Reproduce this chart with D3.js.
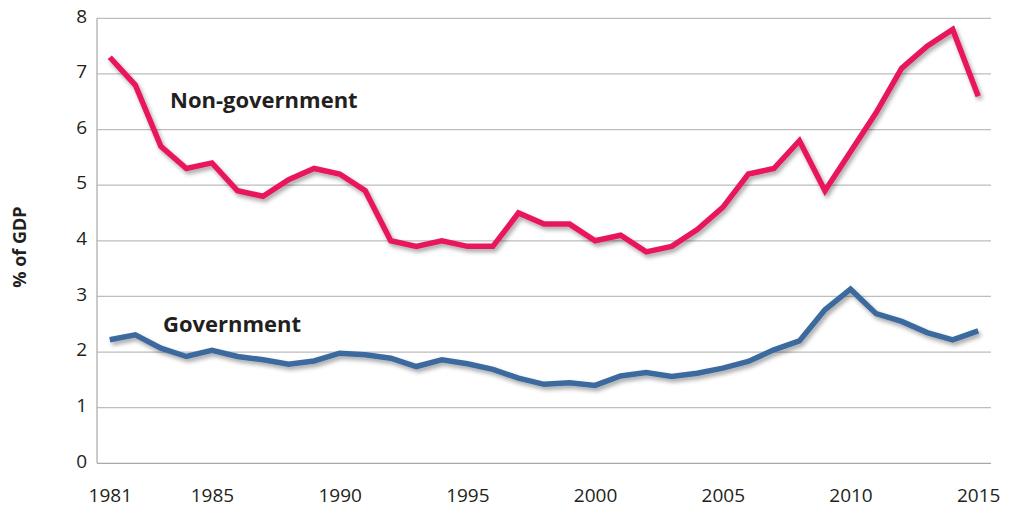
<!DOCTYPE html>
<html>
<head>
<meta charset="utf-8">
<script src="https://cdn.jsdelivr.net/npm/d3@7/dist/d3.min.js"></script>
<style>
  html, body { margin: 0; padding: 0; background: #fff; }
  svg { display: block; }
  text { font-family: "Open Sans", "Noto Sans", sans-serif; fill: #231f20; }
</style>
</head>
<body>
<svg id="chart" width="1013" height="513"></svg>
<script>
const years = d3.range(1981, 2016);
const nonGovernment = [7.3, 6.8, 5.7, 5.3, 5.4, 4.9, 4.8, 5.1, 5.3, 5.2, 4.9, 4.0, 3.9, 4.0, 3.9, 3.9, 4.5, 4.3, 4.3, 4.0, 4.1, 3.8, 3.9, 4.2, 4.6, 5.2, 5.3, 5.8, 4.9, 5.6, 6.3, 7.1, 7.5, 7.8, 6.6];
const government = [2.22, 2.31, 2.07, 1.92, 2.03, 1.92, 1.86, 1.78, 1.84, 1.98, 1.95, 1.89, 1.74, 1.86, 1.79, 1.69, 1.53, 1.42, 1.45, 1.40, 1.57, 1.63, 1.56, 1.62, 1.71, 1.83, 2.04, 2.20, 2.76, 3.13, 2.69, 2.55, 2.35, 2.22, 2.38];
const xTickYears = [1981, 1985, 1990, 1995, 2000, 2005, 2010, 2015];
const yTicks = [0, 1, 2, 3, 4, 5, 6, 7, 8];
const seriesNames = ["Non-government", "Government"];
const yLabel = "% of GDP";

const svg = d3.select("#chart");
const mLeft = 97, mRight = 991, mTop = 18.3, mBottom = 463.3;

const x = d3.scaleLinear().domain([1980.5, 2015.5]).range([mLeft, mRight]);
const y = d3.scaleLinear().domain([0, 8]).range([mBottom, mTop]);

const defs = svg.append("defs");
const f = defs.append("filter").attr("id", "shadow")
  .attr("x", "-5%").attr("y", "-20%").attr("width", "110%").attr("height", "140%");
f.append("feDropShadow").attr("dx", 2).attr("dy", 3).attr("stdDeviation", 2.2)
  .attr("flood-color", "#000").attr("flood-opacity", 0.35);

// gridlines
svg.append("g").selectAll("line").data(yTicks.filter(d => d > 0)).join("line")
  .attr("x1", mLeft).attr("x2", mRight)
  .attr("y1", d => y(d)).attr("y2", d => y(d))
  .attr("stroke", "#bdbdbd").attr("stroke-width", 1.2);

// axis lines
svg.append("line").attr("x1", mLeft).attr("x2", mRight).attr("y1", y(0)).attr("y2", y(0))
  .attr("stroke", "#a8a8a8").attr("stroke-width", 1.2);
svg.append("line").attr("x1", mLeft).attr("x2", mLeft).attr("y1", y(8)).attr("y2", y(0))
  .attr("stroke", "#a8a8a8").attr("stroke-width", 1.2);

// y tick labels
const yAxis = d3.axisLeft(y).tickValues(yTicks).tickSize(0).tickPadding(10).tickFormat(d3.format("d"));
const ya = svg.append("g").attr("transform", `translate(${mLeft},0)`).call(yAxis);
ya.select(".domain").remove();
ya.selectAll("text").style("font-size", "19px").attr("fill", "#231f20")
  .style("font-family", '"Open Sans", sans-serif').attr("dy", "0.2em");

// x tick labels
const xAxis = d3.axisBottom(x).tickValues(xTickYears).tickSize(0).tickPadding(25).tickFormat(d3.format("d"));
const xa = svg.append("g").attr("transform", `translate(0,${mBottom})`).call(xAxis);
xa.select(".domain").remove();
xa.selectAll("text").style("font-size", "19px").attr("fill", "#231f20")
  .style("font-family", '"Open Sans", sans-serif');

// y label
svg.append("text")
  .attr("transform", "translate(26,247) rotate(-90)")
  .attr("text-anchor", "middle")
  .style("font-size", "18px").style("font-weight", "700")
  .text(yLabel);

const line = d3.line().x((d, i) => x(years[i])).y(d => y(d));

svg.append("path").datum(nonGovernment)
  .attr("d", line).attr("fill", "none")
  .attr("stroke", "#e8175d").attr("stroke-width", 5.5)
  .attr("stroke-linejoin", "miter").attr("stroke-linecap", "butt")
  .attr("filter", "url(#shadow)");

svg.append("path").datum(government)
  .attr("d", line).attr("fill", "none")
  .attr("stroke", "#3d6b9e").attr("stroke-width", 5.5)
  .attr("stroke-linejoin", "miter").attr("stroke-linecap", "butt")
  .attr("filter", "url(#shadow)");

// series labels
svg.append("text").attr("x", 170).attr("y", 108)
  .style("font-size", "22px").style("font-weight", "700")
  .text(seriesNames[0]);
svg.append("text").attr("x", 163).attr("y", 332)
  .style("font-size", "22px").style("font-weight", "700")
  .text(seriesNames[1]);
</script>
</body>
</html>
